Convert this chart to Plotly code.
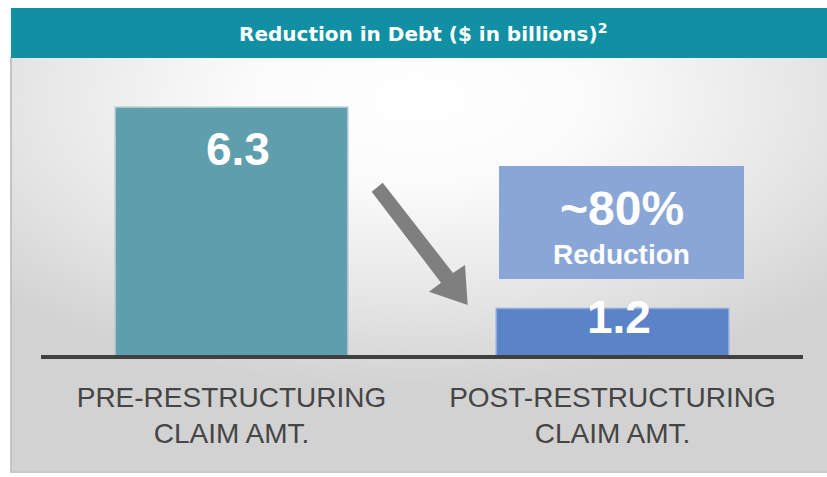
import base64
import plotly.graph_objects as go

# ---- data ----
categories = ["PRE-RESTRUCTURING<br>CLAIM AMT.", "POST-RESTRUCTURING<br>CLAIM AMT."]
values = [6.3, 1.2]
value_labels = ["6.3", "1.2"]
bar_colors = ["#5f9ead", "#5b83c8"]
bar_line_colors = ["#a3c6ce", "#8eaadc"]
title_text = "Reduction in Debt ($ in billions)<sup>2</sup>"
callout_big = "~80%"
callout_small = "Reduction"

# ---- layout geometry (pixels) ----
W, H = 827, 477
L, R = 41, 803          # plot area x extent
T, B = 57, 356          # plot area y extent


def px(x):
    return (x - L) / (R - L)


def py(y):
    return (B - y) / (B - T)


YMAX = 7.57

# gradient panel as svg image
pw, ph = 817, 416
svg = f'''<svg xmlns="http://www.w3.org/2000/svg" width="{pw}" height="{ph}" viewBox="0 0 {pw} {ph}" preserveAspectRatio="none">
<defs><radialGradient id="g" cx="0.5" cy="0.1" r="0.7" fx="0.5" fy="0.1">
<stop offset="0" stop-color="#ffffff"/><stop offset="0.3" stop-color="#fbfbfb"/>
<stop offset="0.7" stop-color="#e5e5e5"/><stop offset="1" stop-color="#d2d2d2"/></radialGradient></defs>
<rect x="0" y="0" width="{pw}" height="{ph}" fill="url(#g)"/>
<rect x="0" y="0" width="2" height="{ph}" fill="#c4c4c4"/>
<rect x="0" y="{ph-2}" width="{pw}" height="2" fill="#c8c8c8"/>
</svg>'''
svg_uri = "data:image/svg+xml;base64," + base64.b64encode(svg.encode()).decode()

fig = go.Figure()
fig.add_trace(go.Bar(
    x=[0, 1], y=values,
    marker=dict(color=bar_colors, line=dict(color=bar_line_colors, width=1.5)),
    width=0.61, hoverinfo="skip",
))

fig.add_layout_image(dict(
    source=svg_uri, xref="paper", yref="paper",
    x=px(10), y=py(57), sizex=pw / (R - L), sizey=ph / (B - T),
    xanchor="left", yanchor="top", sizing="stretch", layer="below",
))

shapes = []
# title bar
shapes.append(dict(type="rect", xref="paper", yref="paper",
                   x0=px(11), x1=px(828), y0=py(58), y1=py(8),
                   fillcolor="#1190a4", line=dict(width=0), layer="below"))
# baseline
shapes.append(dict(type="line", xref="paper", yref="paper",
                   x0=0, x1=1, y0=py(357), y1=py(357),
                   line=dict(color="#404040", width=4), layer="above"))
# callout box
shapes.append(dict(type="rect", xref="paper", yref="paper",
                   x0=px(499), x1=px(744), y0=py(279), y1=py(166),
                   fillcolor="#89a6d7", line=dict(width=0), layer="above"))
# arrow
arrow_pts = [(371.7, 191.7), (382.7, 182.7), (453, 273), (465, 265),
             (467.7, 305), (429, 291.7), (441, 282.7)]
path = "M " + " L ".join(f"{px(x):.5f},{py(y):.5f}" for x, y in arrow_pts) + " Z"
shapes.append(dict(type="path", xref="paper", yref="paper", path=path,
                   fillcolor="#7f7f7f", line=dict(width=0), layer="above"))

annotations = []
annotations.append(dict(text=title_text, xref="paper", yref="paper",
                        x=px(423), y=py(33), xanchor="center", yanchor="middle",
                        showarrow=False,
                        font=dict(family="DejaVu Sans", size=20, color="white", weight="bold")))
value_yshift = [-42, -8]
for i, (v, lab) in enumerate(zip(values, value_labels)):
    annotations.append(dict(text=f"<b>{lab}</b>", x=i, y=v, xref="x", yref="y",
                            xanchor="center", yanchor="middle", xshift=6,
                            yshift=value_yshift[i], showarrow=False,
                            font=dict(family="Liberation Sans", size=46, color="white")))
annotations.append(dict(text=f"<b>{callout_big}</b>", xref="paper", yref="paper",
                        x=px(622), y=py(208), xanchor="center", yanchor="middle",
                        showarrow=False,
                        font=dict(family="Liberation Sans", size=48, color="white")))
annotations.append(dict(text=f"<b>{callout_small}</b>", xref="paper", yref="paper",
                        x=px(621), y=py(254), xanchor="center", yanchor="middle",
                        showarrow=False,
                        font=dict(family="Liberation Sans", size=28, color="white")))

fig.update_layout(
    width=W, height=H,
    margin=dict(l=L, r=W - R, t=T, b=H - B, pad=0),
    paper_bgcolor="white", plot_bgcolor="rgba(0,0,0,0)",
    showlegend=False, bargap=0.39,
    shapes=shapes, annotations=annotations,
    xaxis=dict(range=[-0.5, 1.5], tickmode="array", tickvals=[0, 1], ticktext=categories,
               showgrid=False, zeroline=False, showline=False, ticks="",
               ticklabelstandoff=22,
               tickfont=dict(family="Liberation Sans", size=28, color="#454545")),
    yaxis=dict(range=[0, YMAX], visible=False, showgrid=False, zeroline=False),
)

fig.write_html("out.html", post_script="document.body.style.margin='0';",
               config={"displayModeBar": False})
